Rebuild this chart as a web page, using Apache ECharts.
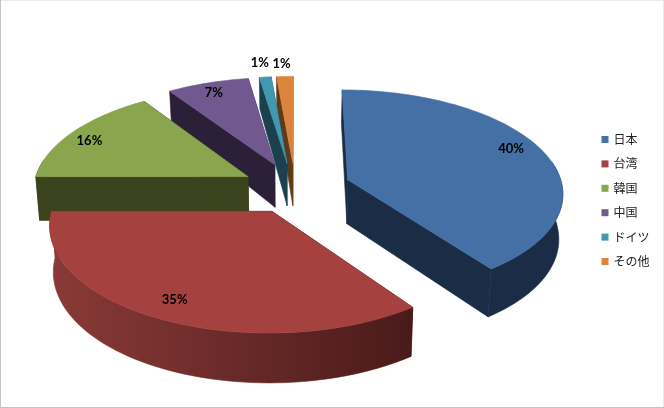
<!DOCTYPE html>
<html><head><meta charset="utf-8">
<style>html,body{margin:0;padding:0;background:#fff}#c{width:664px;height:408px}</style>
<script src="https://cdn.jsdelivr.net/npm/echarts@6/dist/echarts.min.js"></script>
</head><body><div id="c"></div>
<script>
var categories = ['日本','台湾','韓国','中国','ドイツ','その他'];
var values = [40, 35, 15.6, 7, 1, 1.4];
var topColors = ['#4470A5','#A5413F','#89A54E','#71588F','#4198AF','#DB843D'];
var wallColors = ['#1A2C46','#4A1A1A','#3A431D','#2B2038','#1A414D','#5F3A16'];
var rimLeft = ['#1A2C46','#8A3A38','#3A431D','#2B2038','#1A414D','#5F3A16'];
var rimRight = ['#1A2C46','#4A1A1A','#3A431D','#2B2038','#1A414D','#5F3A16'];
var explode = [0.265,0.24,0.24,0.24,0.24,0.24];
var nudge = [[1,1],[3,2],[0,1],[0,0],[0,0],[2,0]];
var labelNudge = [[-6,-5],[1,-3],[-5,3],[-2,0],[-2,-1],[-2,0]];

var view = {cx:293, cy:187, A:215, B:102, p:0.1156, depth0:45, depthBack:11, depthFront:4, shrink:0.985};
var total = values.reduce(function(a,b){return a+b;},0);
var starts = []; values.reduce(function(acc,v,i){starts[i]=acc;return acc+v;},0);

function project(X,Y,low,n){
  var s = 1/(1-view.p*Y);
  var x = view.cx + view.A*X*s, y = view.cy + view.B*Y*s;
  if(low){ x = view.cx + (x-view.cx)*view.shrink; y += view.depth0 + (Y<0?view.depthBack:view.depthFront)*Y; }
  return [x+n[0],y+n[1]];
}
function renderSlice(i){
  return function(params, api){
    var v = api.value(0);
    var a0 = starts[i]/total*360, a1 = (starts[i]+v)/total*360, mid=(a0+a1)/2, rad=Math.PI/180;
    var ex = explode[i]*Math.sin(mid*rad), ey = -explode[i]*Math.cos(mid*rad);
    function pt(th,r,low){ return project(ex+r*Math.sin(th*rad), ey-r*Math.cos(th*rad), low, nudge[i]); }
    var kids = [];
    function poly(points, fill){
      kids.push({type:'polygon', shape:{points:points}, style:{fill:fill, stroke:fill, lineWidth:0.6}});
    }
    poly([pt(0,0,false),pt(a0,1,false),pt(a0,1,true),pt(0,0,true)], wallColors[i]);
    poly([pt(0,0,false),pt(a1,1,false),pt(a1,1,true),pt(0,0,true)], wallColors[i]);
    var r0 = Math.max(a0,80), r1 = Math.min(a1,280);
    if(r1>r0){
      var up=[],dn=[],t;
      for(t=r0;t<r1;t+=2){up.push(pt(t,1,false));dn.unshift(pt(t,1,true));}
      up.push(pt(r1,1,false));dn.unshift(pt(r1,1,true));
      var grad=new echarts.graphic.LinearGradient(0,0,1,0,[{offset:0,color:rimLeft[i]},{offset:1,color:rimRight[i]}]);
      kids.push({type:'polygon',shape:{points:up.concat(dn)},style:{fill:grad,stroke:grad,lineWidth:0.6}});
    }
    var top=[pt(0,0,false)],t2;
    for(t2=a0;t2<a1;t2+=1.5) top.push(pt(t2,1,false));
    top.push(pt(a1,1,false));
    poly(top, topColors[i]);
    var share = v/total*100;
    var lp = pt(mid, share<3?1.17:0.87, false);
    kids.push({type:'text',x:lp[0]+labelNudge[i][0],y:lp[1]+labelNudge[i][1],style:{
      text:Math.round(share)+'%',fill:'#000',align:'center',verticalAlign:'middle',
      font:'bold 13px Lato, sans-serif'}});
    return {type:'group',children:kids};
  };
}
var order = categories.map(function(_,i){return i;}).sort(function(a,b){
  var ma=(starts[a]+values[a]/2)/total*2*Math.PI, mb=(starts[b]+values[b]/2)/total*2*Math.PI;
  return -Math.cos(ma)+Math.cos(mb);
});
var chart = echarts.init(document.getElementById('c'),null,{width:664,height:408,renderer:'canvas'});
chart.setOption({
  animation:false,
  backgroundColor:'#fff',
  legend:{orient:'vertical',left:601.5,top:133.5,padding:0,icon:'rect',itemWidth:7,itemHeight:7,itemGap:12.4,
    data:categories,textStyle:{fontFamily:'"Noto Sans CJK JP"',fontSize:12,color:'#222'},selectedMode:false},
  graphic:[
    {type:'rect',z:100,shape:{x:0,y:0,width:664,height:1},style:{fill:'#ECECEC'}},
    {type:'rect',z:100,shape:{x:663,y:0,width:1,height:408},style:{fill:'#ECECEC'}},
    {type:'rect',z:100,shape:{x:0,y:0,width:1,height:408},style:{fill:'#C4C4C4'}},
    {type:'rect',z:100,shape:{x:0,y:407,width:664,height:1},style:{fill:'#C4C4C4'}}
  ],
  series:order.map(function(i){
    return {type:'custom',name:categories[i],coordinateSystem:'none',silent:true,
      itemStyle:{color:topColors[i]},data:[[values[i]]],renderItem:renderSlice(i)};
  })
});
</script></body></html>
